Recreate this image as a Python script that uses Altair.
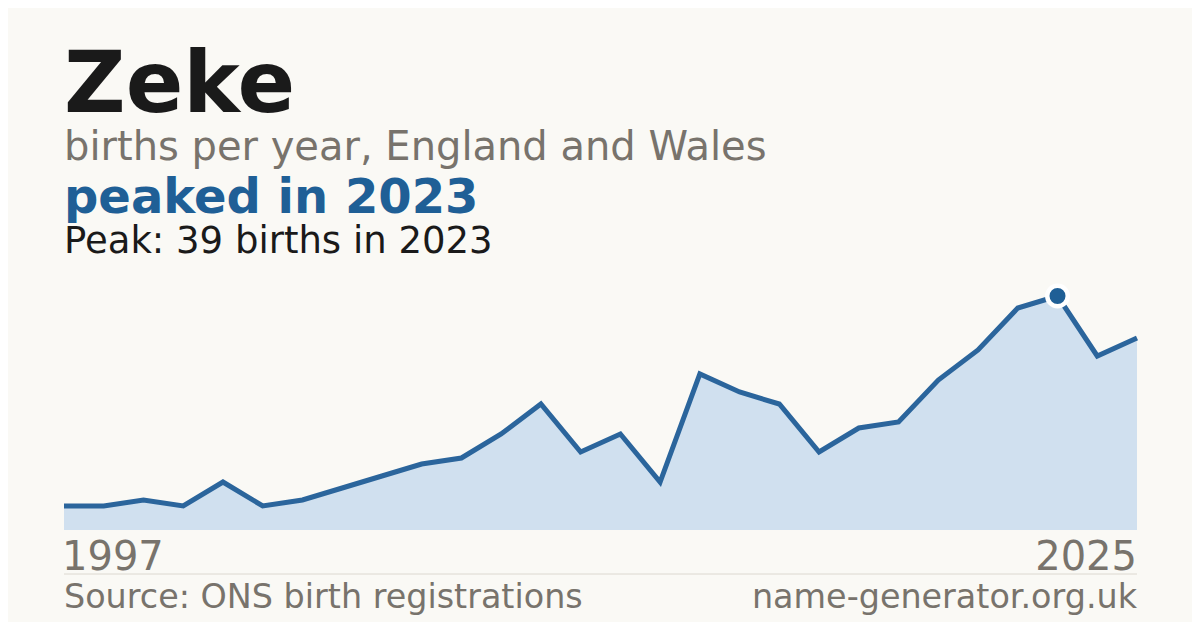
import altair as alt
import pandas as pd

# ---- data ----
years = [1997, 1998, 1999, 2001, 2002, 2003, 2004, 2005, 2006, 2007,
         2008, 2009, 2010, 2011, 2012, 2013, 2014, 2015, 2016, 2017,
         2018, 2019, 2020, 2021, 2022, 2023, 2024, 2025]
births = [4, 4, 5, 4, 8, 4, 5, 7, 9, 11,
          12, 16, 21, 13, 16, 8, 26, 23, 21, 13,
          17, 18, 25, 30, 37, 39, 29, 32]
name = "Zeke"
subtitle = "births per year, England and Wales"
source = "Source: ONS birth registrations"
site = "name-generator.org.uk"

df = pd.DataFrame({"year": years, "births": births})
peak_i = births.index(max(births))
peak_year, peak_val = years[peak_i], births[peak_i]
peak_df = pd.DataFrame({"year": [peak_year], "births": [peak_val]})

FONT = "DejaVu Sans"
W, H = 1073, 234
DARK = "#1a1a1a"
GREY = "#78736c"
BLUE = "#1f5f96"
BG = "#faf9f5"

xs = alt.X("year:O", scale=alt.Scale(type="point", padding=0), axis=None)
ys = alt.Y("births:Q", scale=alt.Scale(domain=[0, max(births)], nice=False), axis=None)

base = alt.Chart(df)
area = base.mark_area(color="#d0e0ef", opacity=1).encode(x=xs, y=ys)
line = base.mark_line(color="#2b659c", strokeWidth=5, strokeJoin="miter").encode(x=xs, y=ys)
dot = alt.Chart(peak_df).mark_point(
    filled=True, shape="circle", size=420, color=BLUE,
    stroke="white", strokeWidth=4.5, opacity=1
).encode(x=alt.X("year:O", axis=None), y=alt.Y("births:Q", axis=None))


def txt(text, y, size, color, x=0, align="left", weight="normal"):
    return alt.Chart(pd.DataFrame({"t": [text]})).mark_text(
        align=align, baseline="alphabetic", font=FONT, fontSize=size,
        fontWeight=weight, color=color
    ).encode(x=alt.value(x), y=alt.value(y), text="t:N")


title = txt(name, -184, 85, DARK, weight="bold")
sub = txt(subtitle, -136, 40, GREY)
headline = txt(f"peaked in {peak_year}", -83, 48, BLUE, weight="bold")
peakline = txt(f"Peak: {peak_val} births in {peak_year}", -43, 37, DARK)

first_lab = alt.Chart(pd.DataFrame({"year": [years[0]], "t": [str(years[0])]})).mark_text(
    align="left", baseline="alphabetic", font=FONT, fontSize=40, color=GREY, dx=-2
).encode(x=alt.X("year:O", axis=None), y=alt.value(274), text="t:N")
last_lab = alt.Chart(pd.DataFrame({"year": [years[-1]], "t": [str(years[-1])]})).mark_text(
    align="right", baseline="alphabetic", font=FONT, fontSize=40, color=GREY
).encode(x=alt.X("year:O", axis=None), y=alt.value(274), text="t:N")

sep = alt.Chart(pd.DataFrame({"a": [0]})).mark_rule(color="#dcd8d0", strokeWidth=1).encode(
    x=alt.value(0), x2=alt.value(W), y=alt.value(278)
)
src = txt(source, 312, 33.4, GREY)
url = txt(site, 312, 33.4, GREY, x=W, align="right")

chart = alt.layer(
    area, line, dot, title, sub, headline, peakline, first_lab, last_lab, sep, src, url
).properties(
    width=W, height=H,
    padding={"left": 56, "top": 288, "right": 55, "bottom": 92},
    autosize=alt.AutoSizeParams(type="none"),
    background=BG,
).configure_view(stroke=None)

chart.save("out.html", embed_options={"renderer": "svg", "actions": False})
